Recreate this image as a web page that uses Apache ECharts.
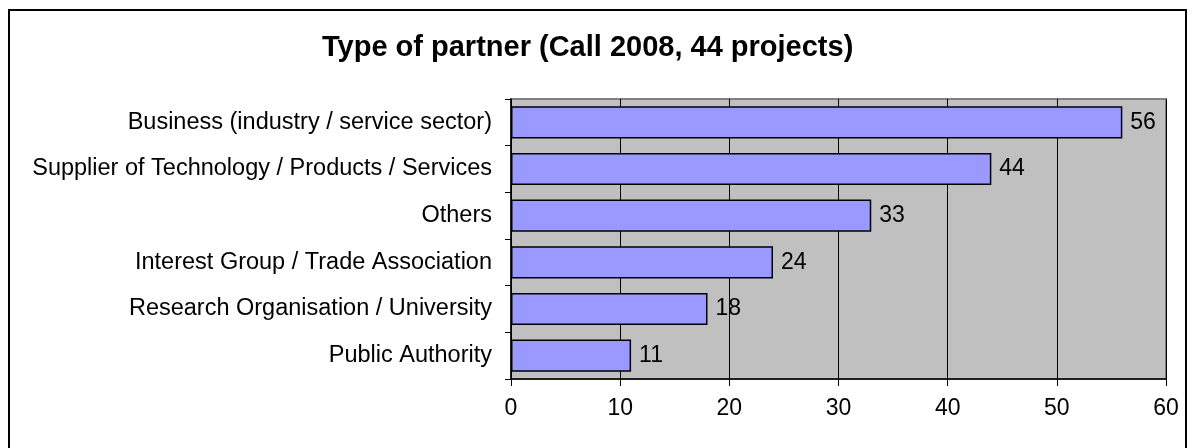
<!DOCTYPE html>
<html>
<head>
<meta charset="utf-8">
<script src="https://cdn.jsdelivr.net/npm/echarts@6/dist/echarts.min.js"></script>
<style>
html,body{margin:0;padding:0;background:#fff;}
#c{width:1192px;height:448px;}
</style>
</head>
<body>
<div id="c"></div>
<script>
const titleText = 'Type of partner (Call 2008, 44 projects)';
const categories = [
  'Business (industry / service sector)',
  'Supplier of Technology / Products / Services',
  'Others',
  'Interest Group / Trade Association',
  'Research Organisation / University',
  'Public Authority'
];
const values = [56, 44, 33, 24, 18, 11];
const xTicks = [0, 10, 20, 30, 40, 50, 60];

const chart = echarts.init(document.getElementById('c'), null, {renderer: 'canvas'});
const FONT = '"Liberation Sans", Arial, sans-serif';
chart.setOption({
  animation: false,
  backgroundColor: '#fff',
  graphic: [{
    type: 'rect',
    shape: {x: 9, y: 10, width: 1177, height: 460},
    style: {fill: 'none', stroke: '#000', lineWidth: 2},
    silent: true,
    z: -1
  }],
  title: {
    text: titleText,
    left: 322,
    top: 33,
    padding: 0,
    textStyle: {fontFamily: FONT, fontSize: 29, fontWeight: 'bold', color: '#000'}
  },
  grid: {
    left: 511, right: 26, top: 99, bottom: 69,
    show: true, backgroundColor: '#C0C0C0', borderColor: '#808080', borderWidth: 2,
    containLabel: false
  },
  xAxis: {
    type: 'value',
    min: xTicks[0], max: xTicks[xTicks.length - 1], interval: 10,
    axisLine: {show: true, lineStyle: {color: '#000', width: 1.5}},
    axisTick: {show: true, length: 7, lineStyle: {color: '#000', width: 1}},
    splitLine: {show: true, lineStyle: {color: '#000', width: 1}},
    axisLabel: {fontFamily: FONT, fontSize: 23, color: '#000', margin: 18}
  },
  yAxis: {
    type: 'category',
    data: categories,
    inverse: true,
    axisLine: {show: true, lineStyle: {color: '#000', width: 1.5}},
    axisTick: {show: true, length: 6, lineStyle: {color: '#000', width: 1}},
    axisLabel: {fontFamily: FONT, fontSize: 23.5, color: '#000', margin: 19}
  },
  series: [{
    type: 'bar',
    data: values,
    barCategoryGap: '31%',
    itemStyle: {color: '#9999FF', borderColor: '#000', borderWidth: 1.5},
    label: {show: true, position: 'right', distance: 8, fontFamily: FONT, fontSize: 23, color: '#000'}
  }]
});
</script>
</body>
</html>
